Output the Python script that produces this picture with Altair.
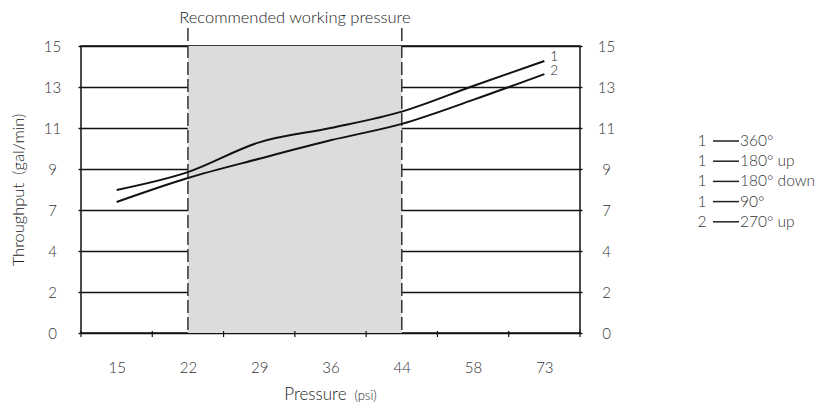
import json
import altair as alt
import pandas as pd

# ---------------- data ----------------
pressure_labels = ["15", "22", "29", "36", "44", "58", "73"]
y_ticks = [0, 2, 4, 7, 9, 11, 13, 15]
series_1 = [7.98, 8.85, 10.30, 11.00, 11.80, 13.05, 14.27]
series_2 = [7.39, 8.56, 9.50, 10.40, 11.20, 12.37, 13.63]
series_names = ["1", "2"]
recommended = ["22", "44"]
legend_numbers = ["1", "1", "1", "1", "2"]
legend_labels = ["360°", "180° up", "180° down", "90°", "270° up"]

# ---------------- layout ----------------
W, H = 499, 287
FONT = "Lato"
TXT = "#333333"
FW = 300

n = len(pressure_labels)
pos = {p: i + 0.5 for i, p in enumerate(pressure_labels)}

rows = []
for name, vals in zip(series_names, [series_1, series_2]):
    for p, v in zip(pressure_labels, vals):
        rows.append({"series": name, "pressure": p, "x": pos[p], "flow": v})
lines_df = pd.DataFrame(rows)
ends_df = lines_df.groupby("series").tail(1)

step = H / (len(y_ticks) - 1)
y_range = [H - i * step for i in range(len(y_ticks))]
yscale = alt.Scale(domain=y_ticks, range=y_range, nice=False, zero=False)
xscale = alt.Scale(domain=[0, n], nice=False, zero=False)

label_expr = json.dumps(pressure_labels) + "[round(datum.value - 0.5)]"

region_df = pd.DataFrame({"x0": [pos[recommended[0]]], "x1": [pos[recommended[1]]],
                          "mid": [(pos[recommended[0]] + pos[recommended[1]]) / 2],
                          "t": ["Recommended working pressure"]})

shade = alt.Chart(region_df).mark_rect(color="#dcdcdf").encode(
    x=alt.X("x0:Q", scale=xscale, axis=alt.Axis(
        values=[i + 0.5 for i in range(n)], labelExpr=label_expr, ticks=False, tickSize=0,
        domain=False, grid=False, labelPadding=34, labelBaseline="middle",
        labelFontSize=15, labelColor=TXT, labelFont=FONT, labelFontWeight=FW, title=None)),
    x2="x1:Q",
    y=alt.value(0), y2=alt.value(H),
)

dash_df = pd.DataFrame({"x": [pos[r] for r in recommended]})
dashes = alt.Chart(dash_df).mark_rule(color="#333333", strokeWidth=1.5, strokeDash=[13, 4]).encode(
    x=alt.X("x:Q", scale=xscale), y=alt.value(-18), y2=alt.value(H)
)

title_txt = alt.Chart(region_df).mark_text(font=FONT, fontSize=16.5, color="#222222", fontWeight=FW,
                                           baseline="alphabetic", align="center").encode(
    x=alt.X("mid:Q", scale=xscale), y=alt.value(-23), text="t:N"
)

tick_df = pd.DataFrame({"x": list(range(n + 1))})
ticks = alt.Chart(tick_df).mark_rule(color="#111111", strokeWidth=1.2).encode(
    x=alt.X("x:Q", scale=xscale), y=alt.value(H - 2), y2=alt.value(H + 4)
)

lines = alt.Chart(lines_df).mark_line(color="#111111", strokeWidth=2, interpolate="monotone").encode(
    x=alt.X("x:Q", scale=xscale),
    y=alt.Y("flow:Q", scale=yscale, axis=alt.Axis(
        values=y_ticks, grid=True, gridColor="#111111", gridWidth=1.4, domain=False,
        ticks=True, tickSize=3, tickColor="#111111", tickWidth=1.4,
        labelAlign="center", labelBaseline="middle", labelPadding=26,
        labelFontSize=15, labelColor=TXT, labelFont=FONT, labelFontWeight=FW,
        title="Throughput\u2002(gal/min)", titleFont=FONT, titleFontSize=16.5,
        titleFontWeight=FW, titleColor="#222222", titleX=-63, titleY=H / 2,
        titleAlign="center", titleBaseline="middle", titleAngle=-90)),
    detail="series:N",
)

end_labels = alt.Chart(ends_df).mark_text(font=FONT, fontSize=13.5, color="#222222", fontWeight=FW,
                                          align="left", baseline="middle", dx=6, dy=-3.5).encode(
    x=alt.X("x:Q", scale=xscale),
    y=alt.Y("flow:Q", scale=yscale, axis=alt.Axis(
        orient="right", values=y_ticks, grid=False, domain=False, ticks=True, tickSize=2,
        tickColor="#111111", tickWidth=1.4,
        labelAlign="center", labelBaseline="middle", labelPadding=24,
        labelFontSize=15, labelColor=TXT, labelFont=FONT, labelFontWeight=FW, title=None)),
    text="series:N",
)

xtitle_df = pd.DataFrame({"a": ["Pressure"], "b": ["(psi)"]})
xtitle_a = alt.Chart(xtitle_df).mark_text(font=FONT, fontSize=17, color="#222222", fontWeight=FW,
                                          align="right", baseline="alphabetic").encode(
    x=alt.value(W / 2 + 16), y=alt.value(H + 67), text="a:N")
xtitle_b = alt.Chart(xtitle_df).mark_text(font=FONT, fontSize=13, color="#222222", fontWeight=FW,
                                          align="left", baseline="alphabetic").encode(
    x=alt.value(W / 2 + 24), y=alt.value(H + 67), text="b:N")

layers = [shade, dashes, lines, end_labels, ticks, title_txt, xtitle_a, xtitle_b]

LEG_X = W + 122
for i, (num, lab) in enumerate(zip(legend_numbers, legend_labels)):
    d = pd.DataFrame({"num": [num], "lab": [lab]})
    yb = 100 + 20.2 * i
    c = alt.Chart(d)
    layers.append(c.mark_text(font=FONT, fontSize=15.5, color=TXT, fontWeight=FW, align="center",
                              baseline="alphabetic").encode(
        x=alt.value(LEG_X), y=alt.value(yb), text="num:N"))
    layers.append(c.mark_rule(color="#222222", strokeWidth=1.5).encode(
        x=alt.value(LEG_X + 11), x2=alt.value(LEG_X + 37), y=alt.value(yb - 5)))
    layers.append(c.mark_text(font=FONT, fontSize=15.5, color=TXT, fontWeight=FW, align="left",
                              baseline="alphabetic").encode(
        x=alt.value(LEG_X + 38), y=alt.value(yb), text="lab:N"))

chart = alt.layer(*layers).resolve_axis(y="independent").properties(
    width=W, height=H,
    autosize=alt.AutoSizeParams(type="none"),
    padding={"left": 73, "top": 38, "right": 239, "bottom": 73},
).configure_view(stroke="#111111", strokeWidth=1.5)

chart.save("out.html", embed_options={"renderer": "svg", "actions": False})
